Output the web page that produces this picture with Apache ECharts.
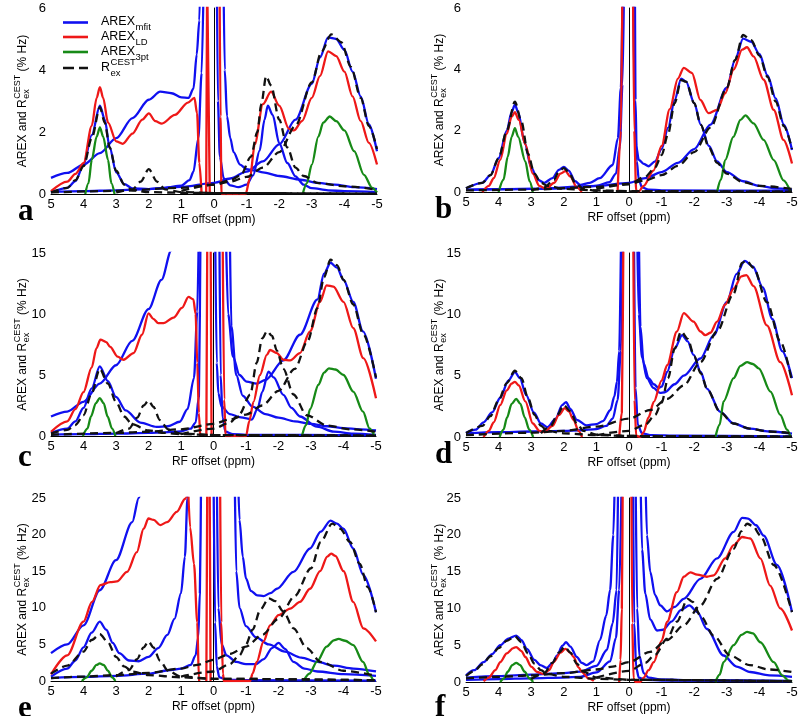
<!DOCTYPE html>
<html><head><meta charset="utf-8">
<script src="https://cdn.jsdelivr.net/npm/echarts@6/dist/echarts.min.js"></script>
<style>html,body{margin:0;padding:0;background:#fff}#c{width:800px;height:716px}</style>
</head><body><div id="c"></div><script>
// ---------- tick labels ----------
const xTicks = [5,4,3,2,1,0,-1,-2,-3,-4,-5];
const yTicks_ab = [0,2,4,6];
const yTicks_cd = [0,5,10,15];
const yTicks_ef = [0,5,10,15,20,25];

// ---------- panel a ----------
const a_mfit_1 = [[5,0.05],[4.5,0.2],[4.25,0.42],[4,0.95],[3.75,1.9],[3.5,2.85],[3.35,2.4],[3.2,1.5],[3,0.7],[2.75,0.32],[2.5,0.18],[2,0.16],[1.5,0.2],[1,0.27],[0.75,0.45],[0.63,0.72],[0.48,1.8],[0.38,3.9],[0.3,8]];
const a_mfit_2 = [[5,0.52],[4.5,0.68],[4,0.95],[3.5,1.32],[3,1.8],[2.5,2.45],[2,3.04],[1.65,3.3],[1.3,3.25],[1,3.12],[0.78,3.1],[0.63,3.4],[0.53,4.5],[0.45,5.6],[0.4,8]];
const a_mfit_3 = [[-0.08,8],[-0.12,3],[-0.18,1.2],[-0.3,0.5],[-0.5,0.28],[-0.75,0.22],[-1,0.3],[-1.2,0.6],[-1.4,1.4],[-1.55,2.4],[-1.65,2.85],[-1.8,2.55],[-2,1.64],[-2.25,1.0],[-2.5,0.57],[-2.75,0.3],[-3,0.19],[-3.5,0.12],[-4,0.09],[-5,0.06]];
const a_mfit_4 = [[-0.28,8],[-0.33,4],[-0.4,2.5],[-0.5,1.8],[-0.6,1.35],[-0.8,0.95],[-1,0.8],[-1.25,0.76],[-1.5,0.7],[-2,0.58],[-2.66,0.46],[-3.2,0.36],[-3.7,0.3],[-4.3,0.22],[-5,0.16]];
const a_mfit_5 = [[5,0.07],[4,0.09],[3,0.12],[2,0.16],[1,0.23],[0,0.36],[-0.5,0.5],[-1,0.72],[-1.5,1.05],[-2,1.6],[-2.5,2.4],[-3,3.55],[-3.25,4.4],[-3.5,5.05],[-3.75,5.0],[-4,4.65],[-4.25,3.95],[-4.5,3.15],[-4.75,2.25],[-5,1.38]];
const a_LD_1 = [[5,0.09],[4.5,0.4],[4.25,0.65],[4,1.0],[3.75,2.2],[3.6,3.1],[3.5,3.45],[3.4,3.1],[3.25,2.3],[3,1.7],[2.8,1.62],[2.5,1.95],[2.2,2.4],[2,2.6],[1.8,2.35],[1.6,2.27],[1.2,2.55],[0.8,2.95],[0.6,3.1],[0.52,2.6],[0.45,1.0],[0.38,0]];
const a_LD_2 = [[0.24,0],[0.21,7],[0.16,7],[0.13,0]];
const a_LD_3 = [[-0.17,7],[-0.2,2.5],[-0.23,0],[-0.6,0],[-0.97,0],[-1.1,0.5],[-1.25,1.6],[-1.5,2.9],[-1.75,3.3],[-2,2.85],[-2.3,2.1],[-2.45,2.05],[-2.7,2.35],[-3,3.1],[-3.25,3.8],[-3.5,4.6],[-3.75,4.45],[-4,3.95],[-4.25,3.15],[-4.5,2.35],[-4.75,1.65],[-5,0.95]];
const a_3pt_1 = [[3.95,0],[3.85,0.35],[3.75,1.1],[3.6,1.85],[3.5,2.15],[3.4,1.85],[3.25,1.1],[3.15,0.35],[3.05,0]];
const a_3pt_2 = [[-2.72,0],[-2.85,0.35],[-3,0.95],[-3.2,1.85],[-3.35,2.3],[-3.55,2.5],[-3.75,2.35],[-4,2.05],[-4.3,1.38],[-4.6,0.62],[-4.85,0.2],[-5,0.05]];
const a_R_1 = [[5,0.05],[4.5,0.2],[4.25,0.45],[4,0.9],[3.75,1.8],[3.5,2.8],[3.35,2.3],[3.2,1.5],[3,0.75],[2.75,0.3],[2.5,0.12],[2,0.06],[1,0.04],[0,0.03],[-5,0.01]];
const a_R_2 = [[3,0.05],[2.5,0.15],[2.25,0.4],[2,0.8],[1.75,0.4],[1.5,0.15],[1,0.06],[0,0.03],[-5,0.01]];
const a_R_3 = [[1,0.1],[0,0.3],[-0.5,0.45],[-0.82,0.6],[-1.13,1.2],[-1.33,2.0],[-1.45,2.9],[-1.6,3.8],[-1.75,3.5],[-2,2.4],[-2.25,1.5],[-2.5,0.85],[-2.75,0.58],[-3.2,0.35],[-4,0.25],[-5,0.14]];
const a_R_4 = [[5,0.05],[3,0.1],[1,0.2],[0,0.3],[-0.5,0.4],[-1,0.55],[-1.5,0.85],[-2,1.35],[-2.5,2.2],[-3,3.6],[-3.3,4.6],[-3.6,5.15],[-3.9,4.9],[-4.2,4.1],[-4.5,3.1],[-4.75,2.2],[-5,1.45]];

// ---------- panel b ----------
const b_mfit_1 = [[5,0.12],[4.5,0.3],[4.25,0.55],[4,1.1],[3.75,2.0],[3.6,2.6],[3.5,2.85],[3.4,2.6],[3.2,1.6],[3,0.8],[2.8,0.4],[2.6,0.3],[2.35,0.45],[2.15,0.72],[2,0.82],[1.85,0.7],[1.65,0.35],[1.5,0.23],[1.2,0.3],[0.9,0.45],[0.5,0.88],[0.34,1.76],[0.25,3.4],[0.19,7]];
const b_mfit_2 = [[5,0.08],[3,0.1],[2,0.12],[1.5,0.15],[1,0.2],[0.6,0.32],[0.4,0.6],[0.28,1.5],[0.2,3.5],[0.15,7]];
const b_mfit_3 = [[-0.13,7],[-0.17,3],[-0.22,1.5],[-0.3,1.05],[-0.45,0.92],[-0.6,0.84],[-0.8,1.0],[-1,1.4],[-1.2,2.1],[-1.4,3.0],[-1.6,3.7],[-1.75,3.6],[-2,2.9],[-2.2,2.2],[-2.45,1.5],[-2.7,1.0],[-3,0.65],[-3.5,0.35],[-4,0.2],[-4.5,0.12],[-5,0.08]];
const b_mfit_4 = [[-0.18,7],[-0.2,3],[-0.24,1],[-0.3,0.4],[-0.4,0.15],[-0.6,0.08],[-1,0.05],[-5,0.04]];
const b_mfit_5 = [[5,0.07],[3,0.1],[1,0.2],[0,0.3],[-0.5,0.45],[-1,0.65],[-1.5,0.95],[-2,1.4],[-2.5,2.2],[-3,3.4],[-3.25,4.3],[-3.5,5.0],[-3.75,4.9],[-4,4.5],[-4.25,3.8],[-4.5,3.05],[-4.75,2.2],[-5,1.37]];
const b_LD_1 = [[4.5,0],[4.3,0.2],[4.15,0.45],[3.95,1.05],[3.75,1.9],[3.6,2.45],[3.5,2.6],[3.38,2.35],[3.18,1.55],[2.95,0.6],[2.75,0.2],[2.55,0.1],[2.3,0.3],[2.1,0.6],[1.95,0.68],[1.8,0.5],[1.6,0.15],[1.45,0]];
const b_LD_2 = [[0.35,0],[0.25,2],[0.2,7]];
const b_LD_3 = [[-0.12,7],[-0.16,2],[-0.22,0.05],[-0.3,0.02],[-0.45,0.2],[-0.75,0.7],[-1,1.5],[-1.25,2.7],[-1.5,3.7],[-1.68,4.05],[-1.93,3.88],[-2.19,3.0],[-2.44,2.57],[-2.7,2.68],[-2.95,3.22],[-3.21,3.99],[-3.47,4.64],[-3.62,4.72],[-3.82,4.42],[-4.13,3.66],[-4.44,2.68],[-4.74,1.7],[-5,0.93]];
const b_3pt_1 = [[4,0],[3.85,0.4],[3.72,1.15],[3.6,1.8],[3.5,2.08],[3.4,1.8],[3.18,1.0],[3.05,0.35],[2.95,0]];
const b_3pt_2 = [[-2.7,0],[-2.82,0.4],[-2.95,1.04],[-3.2,1.8],[-3.42,2.35],[-3.57,2.5],[-3.82,2.24],[-4.13,1.7],[-4.44,1.04],[-4.74,0.38],[-4.95,0.02]];
const b_R_1 = [[5,0.12],[4.5,0.3],[4.25,0.55],[4,1.1],[3.75,2.0],[3.5,2.95],[3.3,2.3],[3.1,1.25],[2.9,0.6],[2.7,0.3],[2.5,0.2],[2,0.1],[1,0.05],[0,0.03],[-5,0.01]];
const b_R_2 = [[3,0.05],[2.6,0.15],[2.3,0.4],[2.15,0.68],[2,0.78],[1.85,0.65],[1.65,0.3],[1.4,0.1],[1,0.04],[0,0.02],[-5,0.01]];
const b_R_3 = [[1,0.1],[0,0.25],[-0.5,0.5],[-0.8,0.8],[-1,1.2],[-1.2,1.9],[-1.4,2.9],[-1.6,3.65],[-1.75,3.6],[-2,2.9],[-2.2,2.2],[-2.45,1.45],[-2.7,0.95],[-3,0.6],[-3.5,0.32],[-4,0.2],[-5,0.1]];
const b_R_4 = [[5,0.05],[3,0.08],[1,0.17],[0,0.27],[-0.5,0.38],[-1,0.55],[-1.5,0.85],[-2,1.3],[-2.5,2.1],[-3,3.4],[-3.25,4.3],[-3.5,5.12],[-3.75,4.95],[-4,4.45],[-4.25,3.75],[-4.5,2.95],[-4.75,2.15],[-5,1.4]];

// ---------- panel c ----------
const c_mfit_1 = [[5,1.6],[4.5,2.0],[4,2.8],[3.5,4.3],[3,5.8],[2.5,7.8],[2,10.4],[1.6,12.8],[1.3,15.2],[1.1,17]];
const c_mfit_2 = [[5,0.25],[4.5,0.6],[4.25,1.2],[4,2.3],[3.75,3.9],[3.5,5.7],[3.25,4.5],[3,3.2],[2.7,2.1],[2.25,1.1],[1.75,0.75],[1.4,0.8],[1.04,1.17],[0.8,2.2],[0.6,4.75],[0.5,10.2],[0.45,17]];
const c_mfit_3 = [[5,0.12],[4,0.15],[3,0.2],[2,0.25],[1.5,0.3],[1,0.38],[0.7,0.6],[0.55,1.1],[0.45,3.2],[0.4,17]];
const c_mfit_4 = [[-0.05,17],[-0.1,6],[-0.15,3.5],[-0.25,2.4],[-0.5,1.8],[-0.8,1.55],[-1.02,1.45],[-1.18,1.35],[-1.35,2.2],[-1.5,3.6],[-1.69,5.28],[-1.85,4.8],[-2.15,3.37],[-2.4,2.3],[-2.66,1.6],[-3.18,0.77],[-3.7,0.36],[-4.3,0.2],[-5,0.1]];
const c_mfit_5 = [[-0.38,17],[-0.45,10],[-0.6,6.5],[-0.8,5.0],[-1.02,4.45],[-1.33,4.3],[-1.6,4.6],[-2.15,6.2],[-2.66,8.3],[-3.2,11.2],[-3.4,13.3],[-3.6,14.2],[-3.8,13.8],[-4,12.8],[-4.3,11.0],[-4.6,8.57],[-5,4.7]];
const c_mfit_6 = [[-0.5,17],[-0.55,9],[-0.7,5],[-0.9,3.3],[-1.2,2.4],[-1.6,1.8],[-2,1.5],[-2.5,1.2],[-3,1.0],[-3.5,0.8],[-4,0.65],[-4.5,0.55],[-5,0.45]];
const c_mfit_7 = [[-0.18,17],[-0.22,5],[-0.28,1.5],[-0.37,0.35],[-0.6,0.15],[-1,0.1],[-5,0.05]];
const c_LD_1 = [[5,0.35],[4.5,1.2],[4.25,2.2],[4,3.6],[3.75,5.6],[3.6,7.2],[3.48,7.9],[3.3,7.7],[3.18,7.3],[2.95,6.5],[2.77,6.25],[2.46,6.8],[2.2,8.3],[2,10.05],[1.85,9.6],[1.7,9.25],[1.54,9.25],[1.23,9.7],[0.97,10.5],[0.77,11.4],[0.62,11.2],[0.55,10],[0.5,6],[0.45,1.9],[0.41,0]];
const c_LD_2 = [[0.22,0],[0.19,17],[0.09,17],[0.06,0]];
const c_LD_3 = [[-0.28,17],[-0.33,3],[-0.37,0],[-0.7,0],[-1,0],[-1.1,1.2],[-1.23,2.8],[-1.43,5.0],[-1.64,6.65],[-1.74,7.05],[-1.95,6.8],[-2.15,6.25],[-2.36,6.2],[-2.66,6.8],[-2.97,8.57],[-3.28,11],[-3.48,12.35],[-3.69,12.25],[-4,11],[-4.3,8.84],[-4.61,6.38],[-5,3.1]];
const c_3pt_1 = [[4.02,0],[3.88,0.6],[3.77,1.6],[3.62,2.7],[3.5,3.1],[3.38,2.7],[3.26,1.6],[3.12,0.6],[3.02,0]];
const c_3pt_2 = [[-2.72,0],[-2.85,0.9],[-2.97,2.2],[-3.23,4.2],[-3.4,5.2],[-3.55,5.55],[-3.75,5.45],[-4,5.0],[-4.3,3.64],[-4.6,2.0],[-4.8,0.63],[-4.95,0.02]];
const c_R_1 = [[5,0.2],[4.5,0.5],[4.25,0.9],[4,1.7],[3.75,3.5],[3.5,5.5],[3.25,4.3],[3,2.8],[2.75,1.6],[2.5,0.95],[2,0.45],[1.5,0.25],[1,0.15],[0,0.08],[-5,0.03]];
const c_R_2 = [[3,0.2],[2.6,0.6],[2.35,1.5],[2.15,2.5],[2,2.9],[1.85,2.4],[1.65,1.3],[1.4,0.55],[1,0.2],[0,0.08],[-5,0.02]];
const c_R_3 = [[1,0.15],[0,0.6],[-0.5,1.1],[-0.8,1.8],[-1.13,3.4],[-1.33,6.0],[-1.5,8.0],[-1.65,8.6],[-1.8,8.2],[-1.95,7.0],[-2.15,5.5],[-2.46,3.4],[-2.87,1.7],[-3.5,0.85],[-4.2,0.55],[-5,0.35]];
const c_R_4 = [[5,0.1],[3,0.25],[2,0.35],[1,0.55],[0,1.0],[-0.5,1.35],[-1,1.75],[-1.5,2.5],[-2,3.7],[-2.5,5.5],[-2.9,7.8],[-3.2,10.5],[-3.4,13.0],[-3.6,14.45],[-3.8,14.0],[-4,12.8],[-4.3,10.8],[-4.6,8.4],[-5,4.8]];

// ---------- panel d ----------
const d_mfit_1 = [[5,0.35],[4.7,0.6],[4.46,1.2],[4.2,2.0],[3.95,3.2],[3.7,4.6],[3.5,5.3],[3.35,4.8],[3.15,3.4],[2.92,2.0],[2.7,1.1],[2.5,0.8],[2.25,1.5],[2.05,2.6],[1.93,2.85],[1.8,2.3],[1.6,1.4],[1.3,0.95],[1,1.05],[0.8,1.3],[0.57,2.2],[0.45,3.3],[0.37,4.5],[0.3,7],[0.24,17]];
const d_mfit_2 = [[5,0.3],[4,0.4],[3,0.45],[2,0.5],[1.5,0.55],[1,0.65],[0.7,0.9],[0.5,1.5],[0.35,3],[0.25,7],[0.18,17]];
const d_mfit_3 = [[-0.3,17],[-0.35,9],[-0.45,6],[-0.6,4.8],[-0.76,4.3],[-0.91,4.0],[-1,4.1],[-1.17,5.3],[-1.4,7.2],[-1.63,8.3],[-1.8,7.8],[-1.98,6.7],[-2.2,5.3],[-2.39,3.95],[-2.8,2.05],[-3.21,1.1],[-3.7,0.68],[-4.3,0.45],[-5,0.27]];
const d_mfit_4 = [[-0.25,17],[-0.3,10],[-0.4,6.5],[-0.55,4.8],[-0.75,4.0],[-0.95,3.6],[-1.1,3.65],[-1.4,4.3],[-1.68,5.0],[-2.19,6.4],[-2.6,8.3],[-3,11],[-3.3,13.3],[-3.55,14.35],[-3.8,13.9],[-4.1,12.2],[-4.4,9.6],[-4.7,7.0],[-5,4.8]];
const d_mfit_5 = [[-0.15,17],[-0.2,4],[-0.27,1],[-0.4,0.3],[-0.7,0.15],[-1.5,0.1],[-5,0.05]];
const d_LD_1 = [[4.46,0],[4.3,0.5],[4.15,1.2],[3.95,2.6],[3.75,3.8],[3.6,4.35],[3.5,4.5],[3.38,4.2],[3.18,2.9],[2.95,1.1],[2.75,0.5],[2.6,0.4],[2.35,0.9],[2.15,1.8],[1.97,2.35],[1.85,2.1],[1.7,1.4],[1.55,0.5],[1.44,0]];
const d_LD_2 = [[0.3,0],[0.22,2],[0.17,17]];
const d_LD_3 = [[-0.13,17],[-0.17,3],[-0.22,0.1],[-0.35,0],[-0.45,0.4],[-0.6,1.6],[-0.76,2.86],[-1,4.6],[-1.17,5.86],[-1.47,8.6],[-1.68,10.1],[-1.98,9.4],[-2.19,8.6],[-2.34,8.3],[-2.5,8.5],[-2.7,9.4],[-2.95,10.8],[-3.21,12.1],[-3.45,13.1],[-3.6,13.2],[-3.82,12.3],[-4.23,9.1],[-4.64,6.1],[-5,3.4]];
const d_3pt_1 = [[3.97,0],[3.85,0.6],[3.74,1.6],[3.6,2.7],[3.46,3.1],[3.33,2.7],[3.2,1.6],[3.06,0.6],[2.94,0]];
const d_3pt_2 = [[-2.65,0],[-2.78,1.0],[-2.9,2.9],[-3.21,4.8],[-3.42,5.8],[-3.62,6.1],[-3.8,5.95],[-3.98,5.6],[-4.34,3.7],[-4.64,1.8],[-4.85,0.6],[-4.95,0.05]];
const d_R_1 = [[5,0.3],[4.5,0.9],[4.25,1.7],[4,3.0],[3.75,4.4],[3.5,5.4],[3.3,4.8],[3.1,3.2],[2.9,1.8],[2.7,0.9],[2.5,0.5],[2,0.3],[1,0.15],[0,0.08],[-5,0.03]];
const d_R_2 = [[2.7,0.3],[2.4,0.9],[2.2,1.8],[2,2.6],[1.8,2.1],[1.6,1.1],[1.4,0.5],[1,0.2],[0,0.08],[-5,0.03]];
const d_R_3 = [[1,0.15],[0,0.5],[-0.5,1.0],[-0.8,1.8],[-1,2.8],[-1.2,4.8],[-1.4,7.2],[-1.6,8.6],[-1.8,8.0],[-2,6.6],[-2.2,5.2],[-2.4,3.9],[-2.8,2.0],[-3.2,1.1],[-3.7,0.68],[-4.3,0.45],[-5,0.3]];
const d_R_4 = [[5,0.15],[3,0.35],[2,0.5],[1,0.85],[0,1.5],[-0.65,2.2],[-1.17,3.1],[-1.68,4.2],[-2.19,6.1],[-2.7,8.6],[-3.21,11.7],[-3.47,14.2],[-3.6,14.4],[-3.82,13.8],[-4.23,11.0],[-4.64,7.8],[-5,4.5]];

// ---------- panel e ----------
const e_mfit_1 = [[5,3.8],[4.5,5.0],[4,7.6],[3.5,12.4],[3,16.5],[2.5,21.7],[2.3,25],[2.1,29]];
const e_mfit_2 = [[5,0.6],[4.5,1.7],[4.25,2.8],[4,4.6],[3.75,6.6],[3.5,8.1],[3.3,7.0],[3.1,5.2],[2.9,3.8],[2.6,2.8],[2.3,2.7],[2,3.3],[1.7,4.5],[1.42,6.3],[1.2,8.5],[1,12],[0.88,17],[0.8,25],[0.76,29]];
const e_mfit_3 = [[5,0.4],[4,0.55],[3,0.7],[2,1.0],[1.32,1.5],[1,1.7],[0.7,2.2],[0.55,3.5],[0.47,6],[0.42,12],[0.38,29]];
const e_mfit_4 = [[-0.75,29],[-0.8,22],[-0.9,17],[-1,14],[-1.15,12.3],[-1.35,11.7],[-1.54,11.6],[-1.75,12.0],[-1.95,12.6],[-2.46,14.9],[-2.97,18.1],[-3.3,20.4],[-3.6,21.9],[-3.8,21.5],[-4,20.8],[-4.3,18.1],[-4.61,14.5],[-5,9.4]];
const e_mfit_5 = [[-0.1,29],[-0.15,10],[-0.25,5],[-0.4,3.5],[-0.7,2.6],[-1,2.3],[-1.3,2.3],[-1.55,3.0],[-1.8,4.5],[-2,5.2],[-2.2,4.4],[-2.46,2.6],[-2.8,1.7],[-3.2,1.3],[-4,0.95],[-5,0.7]];
const e_mfit_6 = [[-0.65,29],[-0.7,15],[-0.8,10],[-1,7.5],[-1.3,6.0],[-1.7,5.0],[-2.2,4.0],[-2.7,3.2],[-3.2,2.6],[-3.7,2.1],[-4.3,1.7],[-5,1.3]];
const e_mfit_7 = [[0,29],[-0.05,8],[-0.1,2],[-0.18,0.5],[-0.4,0.2],[-1,0.1],[-5,0.05]];
const e_LD_1 = [[5,0.9],[4.5,3.5],[4,8.1],[3.74,10.8],[3.48,13.1],[3.18,13.5],[2.97,13.6],[2.66,14.9],[2.36,17.6],[2.15,20.8],[2,22.2],[1.84,22.0],[1.64,21.3],[1.43,21.7],[1.13,23.1],[0.87,24.9],[0.75,27]];
const e_LD_2 = [[0.8,29],[0.72,21],[0.6,16],[0.5,8],[0.45,0.5],[0.44,0]];
const e_LD_3 = [[0.22,0],[0.19,29],[0.12,29],[0.09,0]];
const e_LD_4 = [[-0.2,29],[-0.24,8],[-0.29,1],[-0.32,0],[-0.7,0],[-1.13,0],[-1.2,1.0],[-1.33,2.6],[-1.54,5.4],[-1.74,7.6],[-2,9.0],[-2.36,9.9],[-2.66,10.8],[-2.97,12.6],[-3.28,15.0],[-3.5,17.0],[-3.62,17.4],[-3.75,17.1],[-4,15.0],[-4.3,10.8],[-4.61,7.2],[-5,5.4]];
const e_3pt_1 = [[4.05,0],[3.9,0.5],[3.75,1.4],[3.6,2.2],[3.5,2.4],[3.38,2.2],[3.25,1.4],[3.12,0.5],[3.02,0]];
const e_3pt_2 = [[-2.77,0],[-2.95,1.0],[-3.18,2.6],[-3.48,4.7],[-3.7,5.55],[-3.85,5.75],[-4.05,5.5],[-4.3,4.9],[-4.6,2.6],[-4.8,0.8],[-4.92,0.05]];
const e_R_1 = [[5,1.0],[4.5,2.1],[4,4.0],[3.75,5.6],[3.5,6.4],[3.25,5.3],[3,3.3],[2.75,2.0],[2.5,1.3],[2,0.8],[1,0.5],[0,0.3],[-5,0.1]];
const e_R_2 = [[3,0.6],[2.6,1.5],[2.35,3.0],[2.15,4.6],[2,5.4],[1.85,4.6],[1.65,2.8],[1.4,1.4],[1,0.6],[0,0.3],[-5,0.1]];
const e_R_3 = [[1,0.6],[0,1.3],[-0.5,2.3],[-0.8,3.5],[-1,5.0],[-1.2,7.0],[-1.45,9.8],[-1.7,11.3],[-1.9,10.9],[-2.15,9.5],[-2.46,7.2],[-2.87,4.5],[-3.3,2.6],[-4,1.4],[-5,0.7]];
const e_R_4 = [[5,0.4],[4,0.6],[3,0.8],[2,1.1],[1,1.7],[0.5,2.2],[0,2.9],[-0.5,3.7],[-1,4.7],[-1.5,6.3],[-2,8.5],[-2.5,11.6],[-3,15.4],[-3.3,19.0],[-3.65,21.5],[-3.9,20.8],[-4.2,19.0],[-4.5,16.0],[-4.75,12.8],[-5,9.4]];

// ---------- panel f ----------
const f_mfit_1 = [[5,0.9],[4.75,1.6],[4.46,2.7],[4.2,3.8],[3.95,5.0],[3.7,5.9],[3.46,6.3],[3.3,5.7],[3.13,4.5],[2.9,3.0],[2.72,2.3],[2.52,1.9],[2.35,2.6],[2.2,3.6],[2.05,4.9],[1.93,5.4],[1.8,4.8],[1.6,3.4],[1.45,2.6],[1.3,2.3],[1.1,2.8],[0.89,5.7],[0.7,9],[0.58,12.5],[0.48,20],[0.43,29]];
const f_mfit_2 = [[5,0.6],[4,0.8],[3,1.0],[2,1.2],[1.5,1.4],[1,2.2],[0.68,4.35],[0.5,8],[0.38,12.5],[0.33,29]];
const f_mfit_3 = [[5,0.3],[4,0.4],[3,0.5],[2,0.6],[1.5,0.7],[1,1.3],[0.58,2.8],[0.4,6],[0.3,12.5],[0.22,29]];
const f_mfit_4 = [[-0.5,29],[-0.55,20],[-0.65,15],[-0.8,11.8],[-0.96,10.4],[-1.17,9.6],[-1.4,10.2],[-1.68,11.3],[-2.19,14.0],[-2.7,16.8],[-3.21,20.4],[-3.47,22.3],[-3.65,22.2],[-3.9,21.3],[-4.13,19.9],[-4.54,15.9],[-5,9.5]];
const f_mfit_5 = [[-0.35,29],[-0.4,18],[-0.5,12],[-0.65,8.5],[-0.86,7.0],[-1.05,7.1],[-1.3,8.2],[-1.6,9.8],[-1.85,10.4],[-2.1,9.5],[-2.39,7.2],[-2.9,3.6],[-3.3,2.1],[-3.72,1.36],[-4.3,0.9],[-5,0.7]];
const f_mfit_6 = [[-0.12,29],[-0.16,8],[-0.22,2],[-0.3,0.6],[-0.5,0.3],[-1,0.2],[-5,0.1]];
const f_mfit_7 = [[-0.2,29],[-0.25,10],[-0.32,3.5],[-0.45,1.2],[-0.6,0.6],[-1,0.35],[-2,0.25],[-5,0.15]];
const f_LD_1 = [[4.46,0.1],[4.3,0.6],[4.1,1.6],[3.95,2.7],[3.75,3.9],[3.55,4.6],[3.46,4.75],[3.3,4.2],[3.18,3.4],[3,2.1],[2.82,1.36],[2.62,1.1],[2.45,1.6],[2.31,2.7],[2.1,4.0],[1.95,4.5],[1.8,4.0],[1.7,3.4],[1.55,2.0],[1.44,1.36],[1.25,0.5],[1.08,0.15]];
const f_LD_2 = [[0.3,0],[0.26,3],[0.22,10],[0.19,29]];
const f_LD_3 = [[-0.07,29],[-0.1,8],[-0.14,0.5],[-0.2,0],[-0.35,0],[-0.45,0.6],[-0.6,1.6],[-0.76,2.7],[-1,5.6],[-1.17,8.2],[-1.47,12.2],[-1.68,14.3],[-1.88,14.9],[-2.09,14.6],[-2.39,14.3],[-2.6,14.5],[-2.95,16.8],[-3.21,18.6],[-3.47,19.7],[-3.72,19.5],[-4.03,16.8],[-4.33,13.1],[-4.64,10.0],[-5,7.0]];
const f_3pt_1 = [[3.95,0],[3.83,0.5],[3.72,1.4],[3.58,2.3],[3.46,2.6],[3.34,2.3],[3.2,1.4],[3.06,0.5],[2.94,0]];
const f_3pt_2 = [[-2.65,0],[-2.78,1.0],[-2.9,2.7],[-3.21,5.0],[-3.45,6.4],[-3.62,6.8],[-3.8,6.6],[-4.03,5.4],[-4.44,2.7],[-4.7,0.9],[-4.9,0.2],[-5,0.05]];
const f_R_1 = [[5,0.8],[4.75,1.5],[4.5,2.4],[4.25,3.5],[4,4.6],[3.75,5.6],[3.5,6.2],[3.3,5.4],[3.1,3.9],[2.9,2.5],[2.7,1.6],[2.5,1.1],[2,0.7],[1,0.45],[0,0.3],[-5,0.1]];
const f_R_2 = [[3,0.4],[2.6,1.2],[2.35,2.6],[2.15,4.0],[1.97,4.8],[1.8,4.0],[1.6,2.5],[1.4,1.4],[1,0.6],[0,0.3],[-5,0.1]];
const f_R_3 = [[1,0.6],[0,1.5],[-0.5,2.6],[-0.8,3.7],[-1.17,5.9],[-1.47,8.2],[-1.8,11.3],[-1.95,10.9],[-2.19,9.0],[-2.6,6.3],[-3.1,3.6],[-3.7,2.3],[-4.3,1.7],[-5,1.36]];
const f_R_4 = [[5,0.5],[4,0.7],[3,0.9],[2,1.2],[1,1.7],[0.5,2.1],[0,2.7],[-0.65,4.1],[-1.17,5.7],[-1.68,7.7],[-2.19,10.4],[-2.7,14.0],[-3.21,18.1],[-3.45,20.5],[-3.62,21.5],[-3.8,21.2],[-4.03,19.9],[-4.44,15.9],[-5,9.5]];

// ---------- grouping per panel ----------
const PANEL_DATA = [
  {mfit:[a_mfit_1,a_mfit_2,a_mfit_3,a_mfit_4,a_mfit_5], LD:[a_LD_1,a_LD_3], LDspike:[a_LD_2], p3:[a_3pt_1,a_3pt_2], R:[a_R_1,a_R_2,a_R_3,a_R_4], yTicks:yTicks_ab},
  {mfit:[b_mfit_1,b_mfit_2,b_mfit_3,b_mfit_4,b_mfit_5], LD:[b_LD_1,b_LD_2,b_LD_3], LDspike:[], p3:[b_3pt_1,b_3pt_2], R:[b_R_1,b_R_2,b_R_3,b_R_4], yTicks:yTicks_ab},
  {mfit:[c_mfit_1,c_mfit_2,c_mfit_3,c_mfit_4,c_mfit_5,c_mfit_6,c_mfit_7], LD:[c_LD_1,c_LD_3], LDspike:[c_LD_2], p3:[c_3pt_1,c_3pt_2], R:[c_R_1,c_R_2,c_R_3,c_R_4], yTicks:yTicks_cd},
  {mfit:[d_mfit_1,d_mfit_2,d_mfit_3,d_mfit_4,d_mfit_5], LD:[d_LD_1,d_LD_2,d_LD_3], LDspike:[], p3:[d_3pt_1,d_3pt_2], R:[d_R_1,d_R_2,d_R_3,d_R_4], yTicks:yTicks_cd},
  {mfit:[e_mfit_1,e_mfit_2,e_mfit_3,e_mfit_4,e_mfit_5,e_mfit_6,e_mfit_7], LD:[e_LD_1,e_LD_2,e_LD_4], LDspike:[e_LD_3], p3:[e_3pt_1,e_3pt_2], R:[e_R_1,e_R_2,e_R_3,e_R_4], yTicks:yTicks_ef},
  {mfit:[f_mfit_1,f_mfit_2,f_mfit_3,f_mfit_4,f_mfit_5,f_mfit_6,f_mfit_7], LD:[f_LD_1,f_LD_2,f_LD_3], LDspike:[], p3:[f_3pt_1,f_3pt_2], R:[f_R_1,f_R_2,f_R_3,f_R_4], yTicks:yTicks_ef}
];
const PANEL_LETTERS = ['a','b','c','d','e','f'];

// ---------- layout (positions / styles) ----------
const LAYOUT = [
  {left:51, top:8,   width:326, height:186, titleX:23,  letterX:18,  letterY:212},
  {left:466,top:8,   width:326, height:184, titleX:440, letterX:435, letterY:210},
  {left:51, top:253, width:325, height:183, titleX:23,  letterX:18,  letterY:458},
  {left:466,top:253, width:326, height:184, titleX:440, letterX:435, letterY:455},
  {left:51, top:498, width:325, height:183, titleX:23,  letterX:18,  letterY:709},
  {left:466,top:498, width:326, height:184, titleX:440, letterX:435, letterY:708}
];
const FONT = '"Liberation Sans", Arial, Helvetica, sans-serif';
const C_BLUE = '#1010f0', C_RED = '#ee1818', C_GREEN = '#178a17', C_BLACK = '#111111';
const LW = 2.3;

const chart = echarts.init(document.getElementById('c'), null, {renderer:'canvas'});
const grids = [], xAxes = [], yAxes = [], series = [];

PANEL_DATA.forEach((pd, i) => {
  const L = LAYOUT[i];
  grids.push({left:L.left, top:L.top, width:L.width, height:L.height, containLabel:false, outerBoundsMode:'none'});
  xAxes.push({
    gridIndex:i, type:'value', inverse:true,
    min:xTicks[xTicks.length-1], max:xTicks[0], interval:xTicks[0]-xTicks[1],
    axisLine:{show:true, onZero:false, lineStyle:{color:'#000', width:1}},
    axisTick:{show:false}, splitLine:{show:false},
    axisLabel:{color:'#000', fontSize:13, margin:4, fontFamily:FONT, showMinLabel:true, showMaxLabel:true},
    name:'RF offset (ppm)', nameLocation:'middle', nameGap:20,
    nameTextStyle:{color:'#000', fontSize:12, fontFamily:FONT}
  });
  const yt = pd.yTicks;
  yAxes.push({
    gridIndex:i, type:'value', min:yt[0], max:yt[yt.length-1], interval:yt[1]-yt[0],
    axisLine:{show:true, lineStyle:{color:'#000', width:1}},
    axisTick:{show:false}, splitLine:{show:false},
    axisLabel:{color:'#000', fontSize:13, margin:5, fontFamily:FONT, showMinLabel:true, showMaxLabel:true}
  });
  const add = (arr, name, color, opts) => arr.forEach(d => series.push(Object.assign({
    type:'line', name:name, xAxisIndex:i, yAxisIndex:i, data:d,
    showSymbol:false, symbol:'none', clip:true, smooth:0.3, smoothMonotone:'x',
    lineStyle:{color:color, width:LW, cap:'butt', join:'round'}, silent:true
  }, opts || {})));
  add(pd.mfit, 'AREXmfit', C_BLUE);
  add(pd.LD, 'AREXLD', C_RED);
  add(pd.LDspike, 'AREXLD', C_RED, {smooth:false});
  add(pd.p3, 'AREX3pt', C_GREEN);
  add(pd.R, 'RexCEST', C_BLACK, {lineStyle:{color:C_BLACK, width:LW, type:[8,5], cap:'butt'}});
});

// ---------- text helpers ----------
const mctx = document.createElement('canvas').getContext('2d');
function tw(t, size, weight){ mctx.font = (weight||'') + ' ' + size + 'px ' + FONT; return mctx.measureText(t).width; }
function txt(x, y, t, size, extra){
  return Object.assign({type:'text', x:x, y:y, silent:true,
    style:{text:t, font:size+'px '+FONT, fill:'#000', textAlign:'left', textVerticalAlign:'middle'}}, extra||{});
}

const graphics = [];
// rotated y titles
LAYOUT.forEach((L) => {
  const w1 = tw('AREX and R', 12), wC = tw('CEST', 9), wE = tw('ex', 9), w3 = tw(' (% Hz)', 12);
  const W = w1 + Math.max(wC, wE) + 0.5 + w3;
  const cy = L.top + L.height/2;
  graphics.push({type:'group', x:L.titleX, y:cy + W/2, rotation:Math.PI/2, children:[
    txt(0, 0, 'AREX and R', 12),
    txt(w1 + 0.5, -5, 'CEST', 9),
    txt(w1 + 0.5, 4, 'ex', 9),
    txt(w1 + Math.max(wC, wE) + 0.5, 0, ' (% Hz)', 12)
  ]});
});
// panel letters
LAYOUT.forEach((L, i) => {
  graphics.push({type:'text', x:L.letterX, y:L.letterY, silent:true,
    style:{text:PANEL_LETTERS[i], font:'bold 31px "Liberation Serif", "Times New Roman", serif', fill:'#000', textAlign:'left', textVerticalAlign:'middle'}});
});
// legend (panel a)
const legRows = [
  {y:22.5, color:C_BLUE, main:'AREX', sub:'mfit'},
  {y:37, color:C_RED, main:'AREX', sub:'LD'},
  {y:52, color:C_GREEN, main:'AREX', sub:'3pt'},
  {y:68, color:C_BLACK, main:'R', sub:'ex', sup:'CEST', dashed:true}
];
legRows.forEach(r => {
  graphics.push({type:'line', silent:true, shape:{x1:63, y1:r.y, x2:88, y2:r.y},
    style:{stroke:r.color, lineWidth:2.6, lineDash:r.dashed ? [11,5] : null}});
  const wm = tw(r.main, 12.5);
  graphics.push(txt(101, r.y - 0.5, r.main, 12.5));
  if (r.sup) {
    graphics.push(txt(101 + wm + 0.5, r.y - 6, r.sup, 9.5));
    graphics.push(txt(101 + wm + 0.5, r.y + 5, r.sub, 9.5));
  } else {
    graphics.push(txt(101 + wm + 0.5, r.y + 5, r.sub, 9.5));
  }
});

chart.setOption({
  animation:false,
  backgroundColor:'#fff',
  grid:grids, xAxis:xAxes, yAxis:yAxes, series:series,
  graphic:{elements:graphics}
});
</script></body></html>
